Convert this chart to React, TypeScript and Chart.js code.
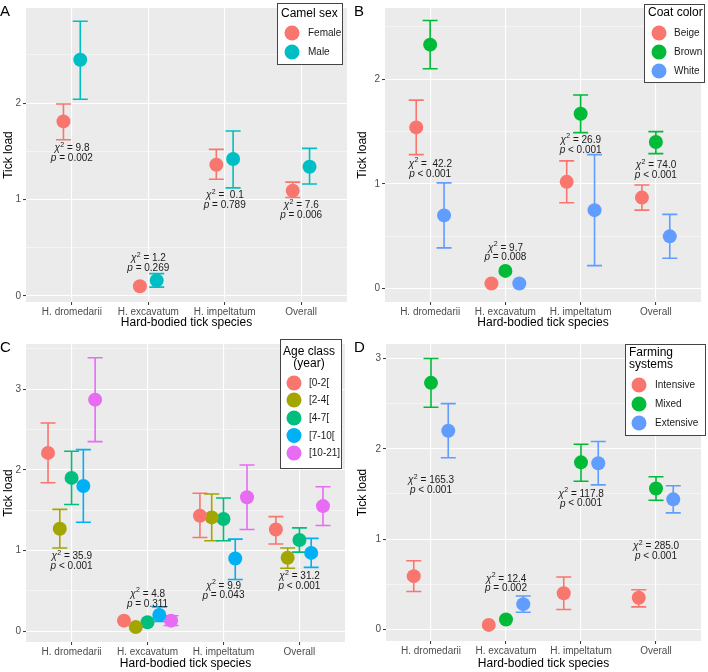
import React, { useEffect, useRef } from 'react';
import { Chart, registerables } from 'chart.js';
Chart.register(...registerables);

const CATEGORIES = ['H. dromedarii', 'H. excavatum', 'H. impeltatum', 'Overall'];
const X_TITLE = 'Hard-bodied tick species';
const Y_TITLE = 'Tick load';

// ---------- Panel A: camel sex ----------
const A_FEMALE = [1.81, 0.10, 1.36, 1.09];
const A_FEMALE_LO = [1.62, null, 1.21, 1.02];
const A_FEMALE_HI = [1.99, null, 1.52, 1.18];
const A_MALE = [2.45, 0.16, 1.42, 1.34];
const A_MALE_LO = [2.04, 0.09, 1.12, 1.16];
const A_MALE_HI = [2.85, 0.23, 1.71, 1.53];
const A_CHI = ['9.8', '1.2', ' 0.1', '7.6'];
const A_P = ['= 0.002', '= 0.269', '= 0.789', '= 0.006'];
const A_LABEL_Y = [1.53, 0.39, 1.04, 0.94];

// ---------- Panel B: coat color ----------
const B_BEIGE = [1.54, 0.05, 1.02, 0.87];
const B_BEIGE_LO = [1.28, null, 0.82, 0.75];
const B_BEIGE_HI = [1.80, null, 1.22, 0.99];
const B_BROWN = [2.33, 0.17, 1.67, 1.40];
const B_BROWN_LO = [2.10, null, 1.49, 1.29];
const B_BROWN_HI = [2.56, null, 1.85, 1.50];
const B_WHITE = [0.70, 0.05, 0.75, 0.50];
const B_WHITE_LO = [0.39, null, 0.22, 0.29];
const B_WHITE_HI = [1.01, null, 1.28, 0.71];
const B_CHI = [' 42.2', '9.7', '26.9', '74.0'];
const B_P = ['< 0.001', '= 0.008', '< 0.001', '< 0.001'];
const B_LABEL_Y = [1.19, 0.39, 1.42, 1.18];

// ---------- Panel C: age class ----------
const C_AGE_0_2 = [2.21, 0.13, 1.43, 1.26];
const C_AGE_0_2_LO = [1.84, null, 1.16, 1.08];
const C_AGE_0_2_HI = [2.58, null, 1.71, 1.42];
const C_AGE_2_4 = [1.27, 0.05, 1.41, 0.91];
const C_AGE_2_4_LO = [1.03, null, 1.12, 0.78];
const C_AGE_2_4_HI = [1.51, null, 1.70, 1.03];
const C_AGE_4_7 = [1.90, 0.11, 1.39, 1.13];
const C_AGE_4_7_LO = [1.57, null, 1.12, 0.98];
const C_AGE_4_7_HI = [2.23, null, 1.65, 1.28];
const C_AGE_7_10 = [1.80, 0.20, 0.90, 0.97];
const C_AGE_7_10_LO = [1.35, 0.12, 0.64, 0.79];
const C_AGE_7_10_HI = [2.25, 0.30, 1.14, 1.15];
const C_AGE_10_21 = [2.87, 0.13, 1.66, 1.55];
const C_AGE_10_21_LO = [2.35, 0.07, 1.26, 1.31];
const C_AGE_10_21_HI = [3.39, 0.19, 2.06, 1.79];
const C_CHI = ['35.9', '4.8', '9.9', '31.2'];
const C_P = ['< 0.001', '= 0.311', '= 0.043', '< 0.001'];
const C_LABEL_Y = [0.93, 0.46, 0.56, 0.68];

// ---------- Panel D: farming systems ----------
const D_INTENSIVE = [0.59, 0.05, 0.40, 0.35];
const D_INTENSIVE_LO = [0.42, null, 0.22, 0.25];
const D_INTENSIVE_HI = [0.76, null, 0.58, 0.44];
const D_MIXED = [2.73, 0.11, 1.85, 1.56];
const D_MIXED_LO = [2.46, null, 1.64, 1.43];
const D_MIXED_HI = [3.00, null, 2.05, 1.69];
const D_EXTENSIVE = [2.20, 0.28, 1.84, 1.44];
const D_EXTENSIVE_LO = [1.90, 0.19, 1.60, 1.29];
const D_EXTENSIVE_HI = [2.50, 0.37, 2.08, 1.59];
const D_CHI = ['165.3', '12.4', '117.8', '285.0'];
const D_P = ['< 0.001', '= 0.002', '< 0.001', '< 0.001'];
const D_LABEL_Y = [1.65, 0.56, 1.50, 0.92];

const FONT = '"Liberation Sans", Arial, sans-serif';

type Series = { label: string; color: string; values: number[]; lo: (number | null)[]; hi: (number | null)[] };
type PanelCfg = {
  letter: string;
  series: Series[];
  offsets: number[];
  yMin: number; yMax: number;
  chi: string[]; p: string[]; labelY: number[];
  pad: { left: number; right: number; top: number; bottom: number };
  xTitlePad: number;
  legend: { title: string[]; titleAlign: 'left' | 'center'; box: [number, number, number, number]; titleX: number; titleY: number[]; itemY: number[]; circleX: number; labelX: number };
};

const PANELS: PanelCfg[] = [
  {
    letter: 'A',
    series: [
      { label: 'Female', color: '#F8766D', values: A_FEMALE, lo: A_FEMALE_LO, hi: A_FEMALE_HI },
      { label: 'Male', color: '#00BFC4', values: A_MALE, lo: A_MALE_LO, hi: A_MALE_HI },
    ],
    offsets: [-0.11, 0.11],
    yMin: -0.064, yMax: 2.987,
    chi: A_CHI, p: A_P, labelY: A_LABEL_Y,
    pad: { left: 26, right: 6, top: 0, bottom: 34 },
    xTitlePad: 5.8,
    legend: { title: ['Camel sex'], titleAlign: 'left', box: [277, 3, 66, 62], titleX: 281, titleY: [14], itemY: [33, 52], circleX: 292, labelX: 308 },
  },
  {
    letter: 'B',
    series: [
      { label: 'Beige', color: '#F8766D', values: B_BEIGE, lo: B_BEIGE_LO, hi: B_BEIGE_HI },
      { label: 'Brown', color: '#00BA38', values: B_BROWN, lo: B_BROWN_LO, hi: B_BROWN_HI },
      { label: 'White', color: '#619CFF', values: B_WHITE, lo: B_WHITE_LO, hi: B_WHITE_HI },
    ],
    offsets: [-0.185, 0, 0.185],
    yMin: -0.127, yMax: 2.68,
    chi: B_CHI, p: B_P, labelY: B_LABEL_Y,
    pad: { left: 31, right: 1, top: 0, bottom: 34 },
    xTitlePad: 5.8,
    legend: { title: ['Coat color'], titleAlign: 'left', box: [290, 4, 61, 79], titleX: 294, titleY: [13], itemY: [33, 52, 71], circleX: 305, labelX: 320 },
  },
  {
    letter: 'C',
    series: [
      { label: '[0-2[', color: '#F8766D', values: C_AGE_0_2, lo: C_AGE_0_2_LO, hi: C_AGE_0_2_HI },
      { label: '[2-4[', color: '#A3A500', values: C_AGE_2_4, lo: C_AGE_2_4_LO, hi: C_AGE_2_4_HI },
      { label: '[4-7[', color: '#00BF7D', values: C_AGE_4_7, lo: C_AGE_4_7_LO, hi: C_AGE_4_7_HI },
      { label: '[7-10[', color: '#00B0F6', values: C_AGE_7_10, lo: C_AGE_7_10_LO, hi: C_AGE_7_10_HI },
      { label: '[10-21]', color: '#E76BF3', values: C_AGE_10_21, lo: C_AGE_10_21_LO, hi: C_AGE_10_21_HI },
    ],
    offsets: [-0.31, -0.155, 0, 0.155, 0.31],
    yMin: -0.135, yMax: 3.56,
    chi: C_CHI, p: C_P, labelY: C_LABEL_Y,
    pad: { left: 26, right: 9, top: 4, bottom: 30 },
    xTitlePad: 0.8,
    legend: { title: ['Age class', '(year)'], titleAlign: 'center', box: [280, 3, 62, 130], titleX: 309, titleY: [16, 28], itemY: [47, 64, 82, 99.5, 117], circleX: 294, labelX: 309 },
  },
  {
    letter: 'D',
    series: [
      { label: 'Intensive', color: '#F8766D', values: D_INTENSIVE, lo: D_INTENSIVE_LO, hi: D_INTENSIVE_HI },
      { label: 'Mixed', color: '#00BA38', values: D_MIXED, lo: D_MIXED_LO, hi: D_MIXED_HI },
      { label: 'Extensive', color: '#619CFF', values: D_EXTENSIVE, lo: D_EXTENSIVE_LO, hi: D_EXTENSIVE_HI },
    ],
    offsets: [-0.23, 0, 0.23],
    yMin: -0.128, yMax: 3.16,
    chi: D_CHI, p: D_P, labelY: D_LABEL_Y,
    pad: { left: 32, right: 1, top: 4, bottom: 31 },
    xTitlePad: 0.8,
    legend: { title: ['Farming', 'systems'], titleAlign: 'left', box: [271, 8, 81, 92], titleX: 275, titleY: [17, 29], itemY: [49, 68, 87], circleX: 285, labelX: 301 },
  },
];

const W = 354;
const H = 336;

function drawAnnotation(ctx: CanvasRenderingContext2D, x: number, y: number, chi: string, p: string) {
  const size = 10;
  const normal = `${size}px ${FONT}`;
  const italic = `italic ${size}px ${FONT}`;
  const sup = `7px ${FONT}`;
  ctx.save();
  ctx.fillStyle = '#1A1A1A';
  ctx.textBaseline = 'middle';
  ctx.textAlign = 'left';
  const t1 = ' = ' + chi;
  ctx.font = italic; const wChi = ctx.measureText('χ').width;
  ctx.font = sup; const wSup = ctx.measureText('2').width;
  ctx.font = normal; const wT1 = ctx.measureText(t1).width;
  let sx = x - (wChi + wSup + wT1) / 2;
  ctx.font = italic; ctx.fillText('χ', sx, y);
  ctx.font = sup; ctx.fillText('2', sx + wChi + 0.3, y - 3.5);
  ctx.font = normal; ctx.fillText(t1, sx + wChi + wSup + 0.3, y);
  const y2 = y + 9.8;
  const t2 = ' ' + p;
  ctx.font = italic; const wP = ctx.measureText('p').width;
  ctx.font = normal; const wT2 = ctx.measureText(t2).width;
  sx = x - (wP + wT2) / 2;
  ctx.font = italic; ctx.fillText('p', sx, y2);
  ctx.font = normal; ctx.fillText(t2, sx + wP, y2);
  ctx.restore();
}

function Panel({ cfg, left, top }: { cfg: PanelCfg; left: number; top: number }) {
  const ref = useRef<HTMLCanvasElement | null>(null);
  useEffect(() => {
    const canvas = ref.current;
    if (!canvas) return;
    const datasets = cfg.series.map((s, si) => ({
      label: s.label,
      data: s.values.map((v, i) => ({ x: i + cfg.offsets[si], y: v })),
      backgroundColor: s.color,
      borderColor: s.color,
      borderWidth: 0,
      pointRadius: 7,
      pointHoverRadius: 7,
      showLine: false,
    }));

    const panelPlugin = {
      id: 'panelDecor',
      beforeDraw(chart: any) {
        const { ctx, chartArea: a } = chart;
        ctx.save();
        ctx.fillStyle = '#EBEBEB';
        ctx.fillRect(a.left, a.top, a.right - a.left, a.bottom - a.top);
        ctx.restore();
      },
      beforeDatasetsDraw(chart: any) {
        const { ctx } = chart;
        const xs = chart.scales.x, ys = chart.scales.y;
        ctx.save();
        ctx.lineWidth = 1.6;
        cfg.series.forEach((s, si) => {
          ctx.strokeStyle = s.color;
          s.values.forEach((_v, i) => {
            const lo = s.lo[i], hi = s.hi[i];
            if (lo == null || hi == null) return;
            const px = xs.getPixelForValue(i + cfg.offsets[si]);
            const yl = ys.getPixelForValue(lo), yh = ys.getPixelForValue(hi);
            ctx.beginPath();
            ctx.moveTo(px, yl); ctx.lineTo(px, yh);
            ctx.moveTo(px - 7.5, yl); ctx.lineTo(px + 7.5, yl);
            ctx.moveTo(px - 7.5, yh); ctx.lineTo(px + 7.5, yh);
            ctx.stroke();
          });
        });
        ctx.restore();
      },
      afterDatasetsDraw(chart: any) {
        const { ctx } = chart;
        const xs = chart.scales.x, ys = chart.scales.y;
        CATEGORIES.forEach((_c, i) => {
          drawAnnotation(ctx, xs.getPixelForValue(i), ys.getPixelForValue(cfg.labelY[i]), cfg.chi[i], cfg.p[i]);
        });
      },
      afterDraw(chart: any) {
        const { ctx } = chart;
        const L = cfg.legend;
        ctx.save();
        ctx.fillStyle = '#000';
        ctx.font = `15px ${FONT}`;
        ctx.textBaseline = 'alphabetic';
        ctx.textAlign = 'left';
        ctx.fillText(cfg.letter, 0, 16);
        const [bx, by, bw, bh] = L.box;
        ctx.fillStyle = '#FFFFFF';
        ctx.fillRect(bx, by, bw, bh);
        ctx.strokeStyle = '#444444';
        ctx.lineWidth = 1;
        ctx.strokeRect(bx + 0.5, by + 0.5, bw - 1, bh - 1);
        ctx.fillStyle = '#000';
        ctx.font = `12px ${FONT}`;
        ctx.textBaseline = 'middle';
        ctx.textAlign = L.titleAlign;
        L.title.forEach((t, k) => ctx.fillText(t, L.titleX, L.titleY[k]));
        ctx.textAlign = 'left';
        ctx.font = `10px ${FONT}`;
        cfg.series.forEach((s, k) => {
          ctx.fillStyle = s.color;
          ctx.beginPath();
          ctx.arc(L.circleX, L.itemY[k], 7.5, 0, Math.PI * 2);
          ctx.fill();
          ctx.fillStyle = '#1A1A1A';
          ctx.fillText(s.label, L.labelX, L.itemY[k] + 0.5);
        });
        ctx.restore();
      },
    };

    const chart = new Chart(canvas, {
      type: 'scatter',
      data: { datasets },
      plugins: [panelPlugin],
      options: {
        animation: false,
        responsive: false,
        maintainAspectRatio: false,
        layout: { padding: { left: 0, right: cfg.pad.right, top: cfg.pad.top, bottom: 0 } },
        plugins: { legend: { display: false }, tooltip: { enabled: false } },
        events: [],
        scales: {
          x: {
            type: 'linear',
            min: -0.6,
            max: 3.6,
            afterFit: (s: any) => { s.height = cfg.pad.bottom; },
            border: { display: false },
            grid: {
              color: '#FFFFFF',
              lineWidth: 1.1,
              tickColor: '#333333',
              tickLength: 3,
              tickWidth: 1,
            },
            ticks: {
              stepSize: 1,
              includeBounds: false,
              autoSkip: false,
              maxRotation: 0,
              padding: 1,
              color: '#4D4D4D',
              font: { family: FONT, size: 10 },
              callback: (v: any) => CATEGORIES[Math.round(Number(v))] ?? '',
            },
            title: {
              display: true,
              text: X_TITLE,
              color: '#000',
              font: { family: FONT, size: 12 },
              padding: { top: 0, bottom: cfg.xTitlePad },
            },
          },
          y: {
            type: 'linear',
            min: cfg.yMin,
            max: cfg.yMax,
            afterFit: (s: any) => { s.width = cfg.pad.left; },
            border: { display: false },
            grid: {
              color: '#FFFFFF',
              lineWidth: (c: any) => (Number.isInteger(c.tick?.value) ? 1.1 : 0.5),
              tickColor: (c: any) => (Number.isInteger(c.tick?.value) ? '#333333' : 'rgba(0,0,0,0)'),
              tickLength: 3,
              tickWidth: 1,
            },
            ticks: {
              stepSize: 0.5,
              includeBounds: false,
              padding: 2,
              color: '#4D4D4D',
              font: { family: FONT, size: 10 },
              callback: (v: any) => (Number.isInteger(Number(v)) ? String(v) : ''),
            },
            title: {
              display: true,
              text: Y_TITLE,
              color: '#000',
              font: { family: FONT, size: 12 },
              padding: { top: 1, bottom: 0 },
            },
          },
        },
      } as any,
    });
    return () => chart.destroy();
  }, [cfg]);
  return (
    <canvas
      ref={ref}
      width={W}
      height={H}
      style={{ position: 'absolute', left, top, width: W, height: H }}
    />
  );
}

export default function App() {
  return (
    <div style={{ position: 'fixed', left: 0, top: 0, width: 708, height: 672, background: '#FFFFFF' }}>
      <Panel cfg={PANELS[0]} left={0} top={0} />
      <Panel cfg={PANELS[1]} left={354} top={0} />
      <Panel cfg={PANELS[2]} left={0} top={336} />
      <Panel cfg={PANELS[3]} left={354} top={336} />
    </div>
  );
}
